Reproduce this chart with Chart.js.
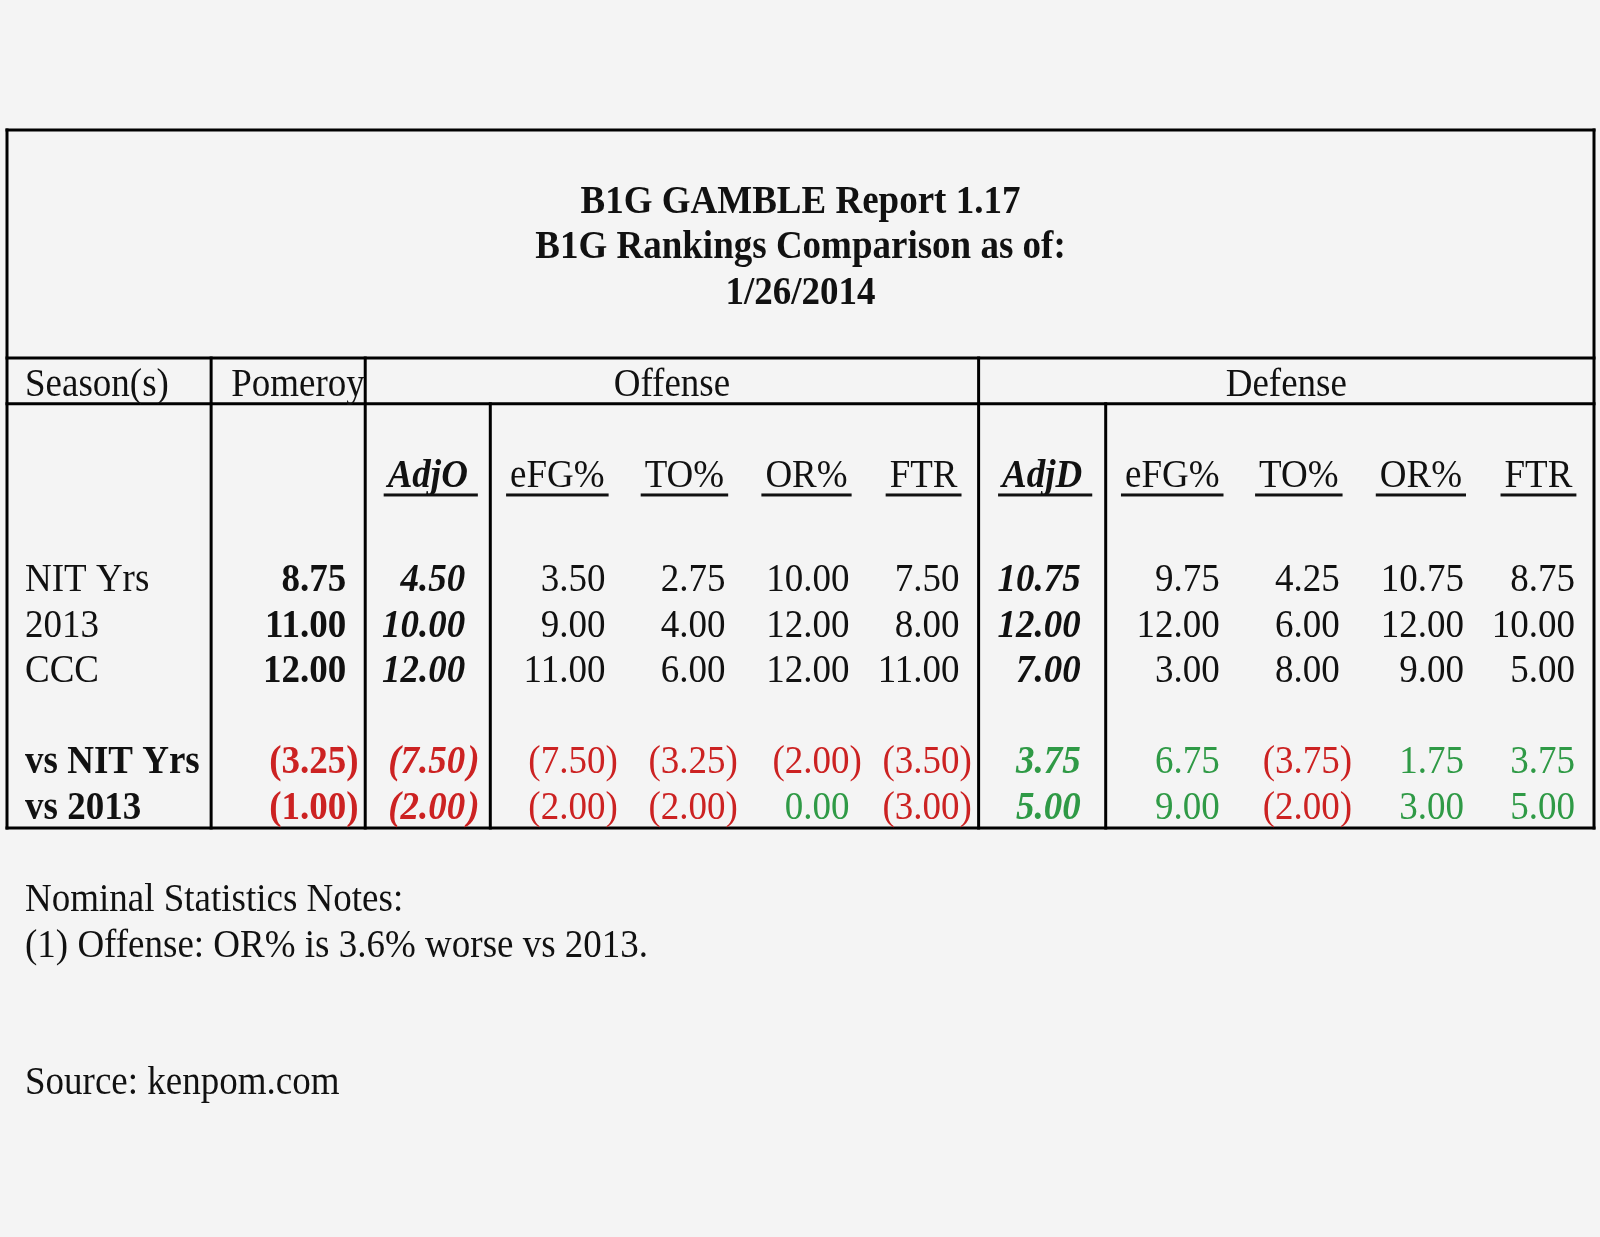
<!DOCTYPE html>
<html><head><meta charset="utf-8">
<script src="https://cdn.jsdelivr.net/npm/chart.js@4.4.1/dist/chart.umd.min.js"></script>
<style>html,body{margin:0;padding:0;background:#f4f4f4;}canvas{display:block}</style>
</head><body>
<canvas id="c" width="1600" height="1237" style="width:1600px;height:1237px"></canvas>
<script>
// ---------- DATA ----------
const titleLines = ['B1G GAMBLE Report 1.17', 'B1G Rankings Comparison as of:', '1/26/2014'];
const groupHeaders = ['Season(s)', 'Pomeroy', 'Offense', 'Defense'];
const metricLabels = ['AdjO', 'eFG%', 'TO%', 'OR%', 'FTR', 'AdjD', 'eFG%', 'TO%', 'OR%', 'FTR'];
const rowLabels = ['NIT Yrs', '2013', 'CCC', 'vs NIT Yrs', 'vs 2013'];
const pomeroy = [8.75, 11.00, 12.00, -3.25, -1.00];
const offAdjO = [4.50, 10.00, 12.00, -7.50, -2.00];
const offEFG  = [3.50, 9.00, 11.00, -7.50, -2.00];
const offTO   = [2.75, 4.00, 6.00, -3.25, -2.00];
const offOR   = [10.00, 12.00, 12.00, -2.00, 0.00];
const offFTR  = [7.50, 8.00, 11.00, -3.50, -3.00];
const defAdjD = [10.75, 12.00, 7.00, 3.75, 5.00];
const defEFG  = [9.75, 12.00, 3.00, 6.75, 9.00];
const defTO   = [4.25, 6.00, 8.00, -3.75, -2.00];
const defOR   = [10.75, 12.00, 9.00, 1.75, 3.00];
const defFTR  = [8.75, 10.00, 5.00, 3.75, 5.00];
const noteLines = ['Nominal Statistics Notes:', '(1) Offense: OR% is 3.6% worse vs 2013.'];
const sourceLine = 'Source: kenpom.com';

const seriesList = [pomeroy, offAdjO, offEFG, offTO, offOR, offFTR, defAdjD, defEFG, defTO, defOR, defFTR];

// ---------- LAYOUT (positions / sizes / styles, kept apart from data) ----------
const layoutCfg = {
  colWidths: [204, 154, 125, 134, 120, 124, 110, 127, 133, 120, 124, 111],
  tableRows: 15.3,
  titleRows: 5,
  headerRows: 6,
  titleCenters: 1.53,
  headerCenter: 5.55,
  subCenter: 7.55,
  underline: 8.0,
  dataTop: 9.32,
  rowSlots: [0, 1, 2, 4, 5],
  noteCenters: [16.83, 17.84],
  sourceCenter: 20.85,
  textPad: 18,
  numPad: 19,
  italicPad: 25,
  fontSize: 40,
  hScale: 0.925,
  capOffset: 13,
  red: '#cc2222',
  green: '#2f9a46',
  ink: '#111111',
  line: '#000000',
  bg: '#f4f4f4'
};
const edges = [0];
layoutCfg.colWidths.forEach(w => edges.push(edges[edges.length - 1] + w));
const totalW = edges[edges.length - 1];
const rowCenters = layoutCfg.rowSlots.map(s => layoutCfg.dataTop + s + 0.5);
const italicCols = [1, 6];
const boldCols = [0];

const datasets = seriesList.map((vals, j) => ({
  label: 'col' + j,
  data: vals.map((v, i) => ({ x: edges[j + 2], y: rowCenters[i], v: v })),
  pointRadius: 0,
  pointHoverRadius: 0,
  showLine: false
}));

function fontStr(style, weight, size) {
  return `${style} ${weight} ${size}px "Liberation Serif", "Times New Roman", serif`;
}
function txt(ctx, t, x, y, align) {
  ctx.save();
  ctx.translate(x, y);
  ctx.scale(layoutCfg.hScale, 1);
  ctx.textAlign = align;
  ctx.fillText(t, 0, 0);
  ctx.restore();
}
function tw(ctx, t) { return ctx.measureText(t).width * layoutCfg.hScale; }

const tablePlugin = {
  id: 'tablePlugin',
  beforeDraw(chart) {
    const ctx = chart.ctx;
    ctx.save();
    ctx.fillStyle = layoutCfg.bg;
    ctx.fillRect(0, 0, chart.width, chart.height);
    ctx.restore();
  },
  afterDatasetsDraw(chart) {
    const L = layoutCfg;
    const { ctx } = chart;
    const xs = chart.scales.x, ys = chart.scales.y;
    const X = v => xs.getPixelForValue(v);
    const Y = v => ys.getPixelForValue(v);
    const fs = L.fontSize;
    ctx.save();
    ctx.textBaseline = 'alphabetic';

    // grid lines
    ctx.strokeStyle = L.line;
    ctx.lineWidth = 3;
    ctx.lineCap = 'square';
    const hline = (yy) => { ctx.beginPath(); ctx.moveTo(X(0), Y(yy)); ctx.lineTo(X(totalW), Y(yy)); ctx.stroke(); };
    const vline = (xx, y0, y1) => { ctx.beginPath(); ctx.moveTo(X(xx), Y(y0)); ctx.lineTo(X(xx), Y(y1)); ctx.stroke(); };
    [0, L.titleRows, L.headerRows, L.tableRows].forEach(hline);
    vline(0, 0, L.tableRows);
    vline(totalW, 0, L.tableRows);
    [edges[1], edges[2], edges[7]].forEach(e => vline(e, L.titleRows, L.tableRows));
    [edges[3], edges[8]].forEach(e => vline(e, L.headerRows, L.tableRows));

    // title
    ctx.fillStyle = L.ink;
    ctx.font = fontStr('normal', 'bold', fs);
    titleLines.forEach((t, k) => txt(ctx, t, X(totalW / 2), Y(L.titleCenters + k) + L.capOffset, 'center'));

    // group headers
    ctx.font = fontStr('normal', 'normal', fs);
    const hy = Y(L.headerCenter) + L.capOffset;
    txt(ctx, groupHeaders[0], X(edges[0] + L.textPad), hy, 'left');
    txt(ctx, groupHeaders[1], X(edges[1] + 20), hy, 'left');
    txt(ctx, groupHeaders[2], X((edges[2] + edges[7]) / 2), hy, 'center');
    txt(ctx, groupHeaders[3], X((edges[7] + edges[12]) / 2), hy, 'center');

    // metric sub-headers (underlined)
    metricLabels.forEach((m, k) => {
      const c = k + 2;
      const ital = (k === 0 || k === 5);
      ctx.font = ital ? fontStr('italic', 'bold', fs) : fontStr('normal', 'normal', fs);
      const cx = X((edges[c] + edges[c + 1]) / 2);
      ctx.fillStyle = L.ink;
      txt(ctx, m, cx, Y(L.subCenter) + L.capOffset, 'center');
      const w = tw(ctx, m);
      ctx.fillRect(cx - w / 2 - 4, Y(L.underline) - 1.5, w + (ital ? 14 : 8), 3);
    });

    // row labels
    rowLabels.forEach((r, i) => {
      ctx.font = i >= 3 ? fontStr('normal', 'bold', fs) : fontStr('normal', 'normal', fs);
      ctx.fillStyle = L.ink;
      txt(ctx, r, X(edges[0] + L.textPad), Y(rowCenters[i]) + L.capOffset, 'left');
    });

    // cell values from dataset elements
    chart.data.datasets.forEach((ds, j) => {
      const meta = chart.getDatasetMeta(j);
      const ital = italicCols.includes(j);
      const bold = ital || boldCols.includes(j);
      ctx.font = fontStr(ital ? 'italic' : 'normal', bold ? 'bold' : 'normal', fs);
      meta.data.forEach((el, i) => {
        const v = ds.data[i].v;
        const diffRow = i >= 3;
        ctx.fillStyle = !diffRow ? L.ink : (v < 0 ? L.red : L.green);
        const s = v < 0 ? '(' + Math.abs(v).toFixed(2) : v.toFixed(2);
        const rx = el.x - (ital ? L.italicPad : L.numPad);
        const by = el.y + L.capOffset;
        txt(ctx, s, rx, by, 'right');
        if (v < 0) txt(ctx, ')', rx + (ital ? 2 : 0), by, 'left');
      });
    });

    // notes
    ctx.fillStyle = L.ink;
    ctx.font = fontStr('normal', 'normal', fs);
    noteLines.forEach((n, k) => txt(ctx, n, X(edges[0] + L.textPad), Y(L.noteCenters[k]) + L.capOffset, 'left'));
    txt(ctx, sourceLine, X(edges[0] + L.textPad), Y(L.sourceCenter) + L.capOffset, 'left');
    ctx.restore();
  }
};

new Chart(document.getElementById('c'), {
  type: 'scatter',
  data: { datasets: datasets },
  options: {
    responsive: false,
    animation: false,
    devicePixelRatio: 1,
    layout: { padding: { left: 7, right: 6, top: 130, bottom: 409 } },
    plugins: { legend: { display: false }, tooltip: { enabled: false } },
    events: [],
    scales: {
      x: { type: 'linear', display: false, min: 0, max: totalW },
      y: { type: 'linear', display: false, min: 0, max: layoutCfg.tableRows, reverse: true }
    }
  },
  plugins: [tablePlugin]
});
</script>
</body></html>
